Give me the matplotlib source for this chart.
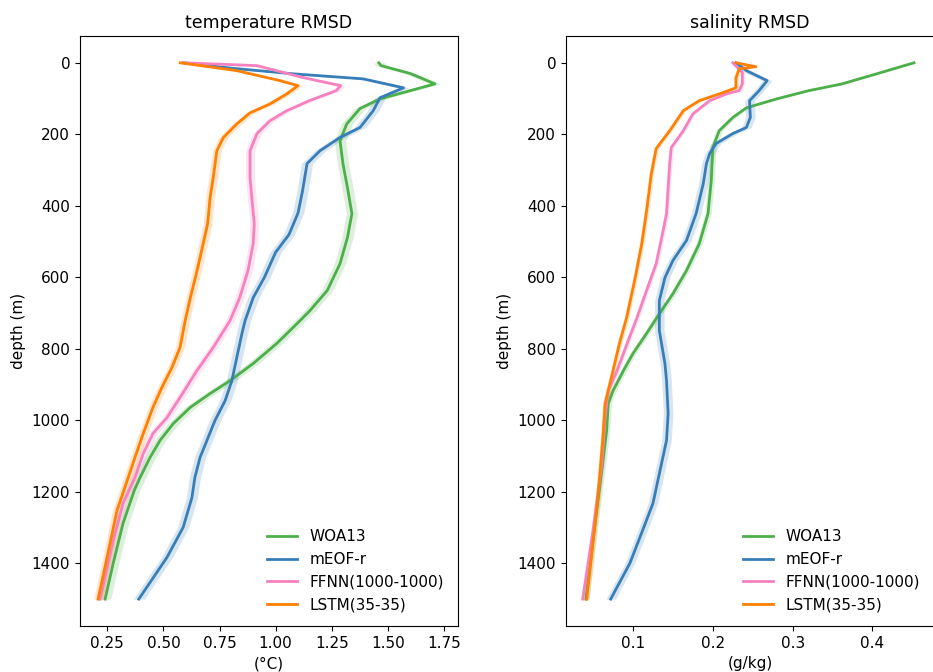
import numpy as np
import matplotlib
matplotlib.use("Agg")
import matplotlib.pyplot as plt

# --- colours (Set1)
colors = {"WOA13": "#4daf4a", "mEOF-r": "#377eb8",
          "FFNN(1000-1000)": "#f781bf", "LSTM(35-35)": "#ff7f00"}
names = ["WOA13", "mEOF-r", "FFNN(1000-1000)", "LSTM(35-35)"]

# --- temperature RMSD (degC)
t_woa_d = [0, 8, 30, 59, 101, 128, 171, 218, 282, 349, 422, 489, 562, 637, 693,
           721, 785, 841, 889, 925, 964, 1009, 1056, 1104, 1160, 1196, 1288,
           1400, 1500]
t_woa = [1.46, 1.47, 1.60, 1.71, 1.465, 1.376, 1.317, 1.287, 1.30, 1.32, 1.34,
         1.32, 1.287, 1.23, 1.153, 1.109, 1.005, 0.90, 0.797, 0.708, 0.619, 0.544,
         0.485, 0.44, 0.396, 0.37, 0.32, 0.276, 0.24]

t_eof_d = [0, 15, 31, 45, 70, 98, 134, 181, 209, 246, 282, 358, 420, 480, 530,
           600, 657, 721, 757, 824, 889, 945, 1000, 1056, 1104, 1160, 1216, 1299,
           1383, 1500]
t_eof = [0.59, 0.80, 1.08, 1.39, 1.57, 1.465, 1.435, 1.376, 1.287, 1.198, 1.14,
         1.12, 1.10, 1.06, 1.00, 0.95, 0.90, 0.864, 0.85, 0.827, 0.805, 0.775, 0.73,
         0.694, 0.663, 0.64, 0.627, 0.588, 0.516, 0.39]

t_ffnn_d = [0, 8, 41, 64, 78, 106, 134, 162, 198, 246, 321, 386, 450, 506, 581,
            657, 721, 796, 861, 936, 992, 1037, 1093, 1160, 1232, 1336, 1500]
t_ffnn = [0.59, 0.917, 1.12, 1.29, 1.27, 1.15, 1.05, 0.975, 0.917, 0.886, 0.886,
          0.895, 0.905, 0.90, 0.877, 0.84, 0.797, 0.722, 0.649, 0.574, 0.516, 0.453,
          0.41, 0.373, 0.32, 0.276, 0.218]

t_lstm_d = [0, 22, 50, 64, 87, 115, 140, 171, 209, 246, 321, 377, 450, 506, 581,
            657, 721, 796, 852, 908, 964, 1037, 1104, 1160, 1252, 1383, 1500]
t_lstm = [0.575, 0.827, 1.02, 1.10, 1.05, 0.975, 0.886, 0.827, 0.767, 0.738, 0.722,
          0.708, 0.697, 0.677, 0.65, 0.62, 0.597, 0.574, 0.538, 0.493, 0.453, 0.41,
          0.373, 0.343, 0.293, 0.249, 0.209]

t_spread = [0.025, 0.025, 0.02, 0.02]

# --- salinity RMSD (g/kg)
s_woa_d = [0, 31, 59, 78, 101, 126, 153, 190, 237, 330, 422, 506, 581, 646, 702,
           757, 813, 861, 917, 953, 1028, 1121, 1260, 1500]
s_woa = [0.452, 0.405, 0.362, 0.32, 0.28, 0.242, 0.225, 0.208, 0.20, 0.198, 0.194,
         0.183, 0.167, 0.15, 0.133, 0.117, 0.10, 0.088, 0.075, 0.069, 0.067, 0.062,
         0.054, 0.041]

s_eof_d = [0, 22, 50, 78, 106, 153, 181, 198, 226, 254, 282, 338, 422, 497, 553,
           601, 665, 749, 841, 889, 981, 1056, 1149, 1232, 1308, 1400, 1500]
s_eof = [0.229, 0.242, 0.268, 0.258, 0.246, 0.247, 0.242, 0.225, 0.204, 0.196,
         0.192, 0.188, 0.179, 0.167, 0.15, 0.14, 0.133, 0.133, 0.14, 0.142, 0.144,
         0.142, 0.133, 0.125, 0.112, 0.096, 0.072]

s_ffnn_d = [0, 27, 59, 78, 87, 106, 143, 190, 237, 282, 422, 489, 562, 637, 713,
            777, 861, 917, 992, 1121, 1308, 1500]
s_ffnn = [0.225, 0.237, 0.237, 0.233, 0.217, 0.196, 0.175, 0.163, 0.148, 0.146,
          0.142, 0.136, 0.129, 0.117, 0.105, 0.094, 0.08, 0.069, 0.065, 0.061, 0.05,
          0.037]

s_lstm_d = [0, 11, 17, 42, 70, 84, 106, 134, 190, 240, 310, 414, 506, 609, 713,
            785, 861, 953, 1056, 1216, 1500]
s_lstm = [0.229, 0.254, 0.233, 0.229, 0.229, 0.212, 0.183, 0.163, 0.146, 0.129,
          0.123, 0.117, 0.111, 0.102, 0.092, 0.083, 0.075, 0.065, 0.062, 0.056, 0.042]

s_spread = [0.004, 0.006, 0.003, 0.003]

temp = [(t_woa_d, t_woa), (t_eof_d, t_eof), (t_ffnn_d, t_ffnn), (t_lstm_d, t_lstm)]
sal = [(s_woa_d, s_woa), (s_eof_d, s_eof), (s_ffnn_d, s_ffnn), (s_lstm_d, s_lstm)]


def _panel(ax, series, spread, title, unit):
    for name, (d, v), sp in zip(names, series, spread):
        d = np.array(d)
        v = np.array(v)
        ax.fill_betweenx(d, v - sp, v + sp, color=colors[name], alpha=0.2, lw=0)
        ax.plot(v, d, color=colors[name], lw=2, label=name)
    ax.set_ylim(1575, -75)
    ax.set_title(title, fontsize=12.5)
    ax.set_xlabel(unit, fontsize=11)
    ax.set_ylabel("depth (m)", fontsize=11)
    ax.tick_params(labelsize=11)
    ax.legend(loc="lower right", frameon=False, fontsize=11)


fig = plt.figure(figsize=(9.33, 6.72), dpi=100)
ax1 = fig.add_axes([0.0857, 0.0685, 0.405, 0.878])
ax2 = fig.add_axes([0.6066, 0.0685, 0.3944, 0.878])

_panel(ax1, temp, t_spread, "temperature RMSD", "(°C)")
ax1.set_xlim(0.128, 1.812)
ax1.set_xticks([0.25, 0.5, 0.75, 1.0, 1.25, 1.5, 1.75])

_panel(ax2, sal, s_spread, "salinity RMSD", "(g/kg)")
ax2.set_xlim(0.016, 0.477)
ax2.set_xticks([0.1, 0.2, 0.3, 0.4])

fig.savefig("out.png", dpi=100)
